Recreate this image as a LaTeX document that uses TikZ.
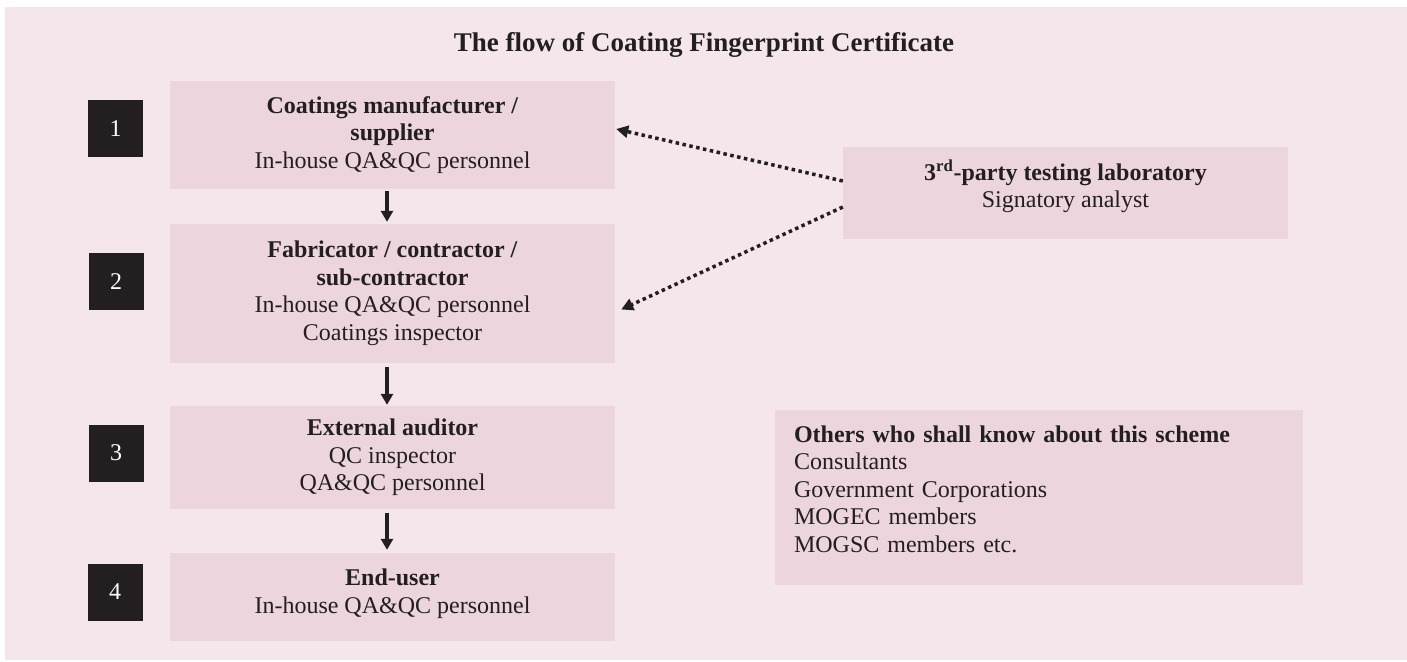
\documentclass[tikz,border=0pt]{standalone}
\usepackage{fontspec}
\setmainfont{Liberation Serif}
\usetikzlibrary{arrows.meta}
\definecolor{bgpink}{HTML}{F5E6EB}
\definecolor{boxpink}{HTML}{EDD5DE}
\definecolor{ink}{HTML}{231F20}
\begin{document}
\begin{tikzpicture}[x=1pt,y=-1pt,
  txt/.style={font=\fontsize{24}{27.5}\selectfont, text=ink},
  flowbox/.style={txt, fill=boxpink, minimum width=445pt, align=center, inner sep=0pt},
  numbox/.style={fill=ink, text=white, font=\fontsize{24}{27.5}\selectfont, minimum width=55pt, minimum height=57pt, inner sep=0pt},
  flowarrow/.style={draw=ink, line width=3.3pt, -{Triangle[length=11pt,width=12pt]}},
  dotarrow/.style={draw=ink, line width=3.5pt, dash pattern=on 3.5pt off 3.5pt, -{Triangle[length=12pt,width=12pt]}}]
\useasboundingbox (0,0) rectangle (1407,661);
\fill[bgpink] (5,7) rectangle (1407,660);

\node[font=\fontsize{27}{32}\selectfont\bfseries, text=ink, anchor=base] (title) at (704,52) {The flow of Coating Fingerprint Certificate};

\node[flowbox, minimum height=108pt] (b1) at (392.5,135) {\textbf{Coatings manufacturer /}\\\textbf{supplier}\\In-house QA\&QC personnel};
\node[flowbox, minimum height=139pt] (b2) at (392.5,293.5) {\textbf{Fabricator / contractor /}\\\textbf{sub-contractor}\\In-house QA\&QC personnel\\Coatings inspector};
\node[flowbox, minimum height=103pt] (b3) at (392.5,457.5) {\textbf{External auditor}\\QC inspector\\QA\&QC personnel};
\node[flowbox, minimum height=88pt, text depth=12pt] (b4) at (392.5,597) {\textbf{End-user}\\In-house QA\&QC personnel};

\node[numbox] (n1) at (115.5,128.5) {1};
\node[numbox] (n2) at (116,281.5) {2};
\node[numbox] (n3) at (116,453) {3};
\node[numbox] (n4) at (115,592) {4};

\node[flowbox, minimum height=92pt, text depth=19pt] (tp) at (1065.5,193) {\textbf{3\textsuperscript{rd}-party testing laboratory}\\Signatory analyst};

\node[txt, fill=boxpink, minimum width=528pt, minimum height=175pt, text width=490pt, inner xsep=19pt, inner ysep=0pt, align=left, text depth=127pt] (ot) at (1039,497.5) {\textbf{Others who shall know about this scheme}\\Consultants\\Government Corporations\\MOGEC members\\MOGSC members etc.};

\draw[flowarrow, shorten <=2pt, shorten >=2pt] ([xshift=-5.5pt]b1.south) -- ([xshift=-5.5pt]b2.north);
\draw[flowarrow, shorten <=4pt, shorten >=1pt] ([xshift=-5.5pt]b2.south) -- ([xshift=-5.5pt]b3.north);
\draw[flowarrow, shorten <=4pt, shorten >=3pt] ([xshift=-5.5pt]b3.south) -- ([xshift=-5.5pt]b4.north);

\draw[dotarrow] ([yshift=12pt]tp.west) -- ([shift={(1pt,6pt)}]b1.east);
\draw[dotarrow] ([yshift=-14pt]tp.west) -- ([shift={(6pt,-16pt)}]b2.east);
\end{tikzpicture}
\end{document}
